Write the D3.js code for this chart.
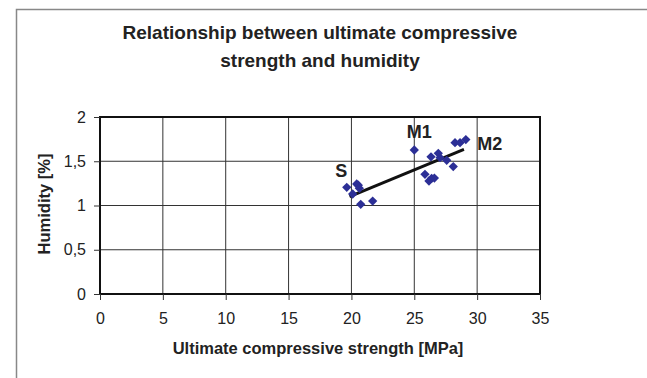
<!DOCTYPE html>
<html lang="en">
<head>
  <meta charset="UTF-8">
  <title>Compressive strength vs humidity</title>
  <script src="https://d3js.org/d3.v7.min.js"></script>
  <style>
    body { margin: 0; background: #fff; }
    text { font-family: "Liberation Sans", Arial, sans-serif; }
  </style>
</head>
<body>
  <div id="viz"></div>

  <script>
    // Data
    const strength = [19.63, 20.42, 20.55, 20.63, 20.1, 20.74, 21.69,
                      25.0, 25.85, 26.17, 26.38, 26.6, 26.33, 26.91, 27.05,
                      27.58, 28.1, 28.24, 28.64, 29.1];
    const humidity = [1.205, 1.243, 1.23, 1.194, 1.13, 1.013, 1.05,
                      1.627, 1.352, 1.277, 1.307, 1.31, 1.55, 1.59, 1.54,
                      1.51, 1.44, 1.71, 1.71, 1.745];
    const trendX = [19.85, 28.95];
    const trendY = [1.10, 1.635];
    const pointLabels = [
      { text: "S", x: 19.2, y: 1.32, anchor: "middle" },
      { text: "M1", x: 25.4, y: 1.76, anchor: "middle" },
      { text: "M2", x: 30.0, y: 1.625, anchor: "start" }
    ];
    const xTicks = [0, 5, 10, 15, 20, 25, 30, 35];
    const yTicks = [0, 0.5, 1, 1.5, 2];

    const W = 647, H = 378;
    const plot = { left: 100, top: 117, right: 540, bottom: 294 };

    const svg = d3.select('#viz').append('svg')
      .attr('width', W)
      .attr('height', H);

    // outer chart frame
    svg.append('rect')
      .attr('x', 16.5).attr('y', 9.5)
      .attr('width', 700).attr('height', 500)
      .attr('fill', 'none')
      .attr('stroke', '#888')
      .attr('stroke-width', 1.5);

    const x = d3.scaleLinear().domain([0, 35]).range([plot.left, plot.right]);
    const y = d3.scaleLinear().domain([0, 2]).range([plot.bottom, plot.top]);

    // gridlines
    svg.append('g')
      .selectAll('line')
      .data(xTicks.slice(1, -1))
      .join('line')
        .attr('x1', d => x(d)).attr('x2', d => x(d))
        .attr('y1', plot.top).attr('y2', plot.bottom)
        .attr('stroke', '#333').attr('stroke-width', 1);
    svg.append('g')
      .selectAll('line')
      .data(yTicks.slice(1, -1))
      .join('line')
        .attr('x1', plot.left).attr('x2', plot.right)
        .attr('y1', d => y(d)).attr('y2', d => y(d))
        .attr('stroke', '#333').attr('stroke-width', 1);

    // plot border
    svg.append('rect')
      .attr('x', plot.left).attr('y', plot.top)
      .attr('width', plot.right - plot.left)
      .attr('height', plot.bottom - plot.top)
      .attr('fill', 'none')
      .attr('stroke', '#111')
      .attr('stroke-width', 2);

    const fmt = d => String(d).replace('.', ',');

    // axes
    const xAxis = svg.append('g')
      .attr('transform', `translate(0, ${plot.bottom})`)
      .call(d3.axisBottom(x).tickValues(xTicks).tickSize(6).tickPadding(13).tickFormat(fmt));
    const yAxis = svg.append('g')
      .attr('transform', `translate(${plot.left}, 0)`)
      .call(d3.axisLeft(y).tickValues(yTicks).tickSize(6).tickPadding(8).tickFormat(fmt));

    [xAxis, yAxis].forEach(a => {
      a.select('.domain').remove();
      a.selectAll('.tick line').attr('stroke', '#333');
      a.selectAll('.tick text')
        .attr('fill', '#222')
        .style('font-family', '"Liberation Sans", Arial, sans-serif')
        .style('font-size', '16px');
    });

    // trend line
    svg.append('path')
      .datum(trendX.map((d, i) => [d, trendY[i]]))
      .attr('d', d3.line().x(d => x(d[0])).y(d => y(d[1])))
      .attr('fill', 'none')
      .attr('stroke', '#111')
      .attr('stroke-width', 3);

    // diamonds
    svg.append('g')
      .selectAll('path')
      .data(strength.map((d, i) => [d, humidity[i]]))
      .join('path')
        .attr('d', d3.symbol(d3.symbolDiamond2, 55))
        .attr('transform', d => `translate(${x(d[0])}, ${y(d[1])})`)
        .attr('fill', '#2c2f96');

    // point labels
    svg.append('g')
      .selectAll('text')
      .data(pointLabels)
      .join('text')
        .attr('x', d => x(d.x))
        .attr('y', d => y(d.y))
        .attr('text-anchor', d => d.anchor)
        .attr('font-weight', 'bold')
        .attr('font-size', 18)
        .attr('fill', '#222')
        .text(d => d.text);

    // titles
    const title = svg.append('text')
      .attr('text-anchor', 'middle')
      .attr('font-weight', 'bold')
      .attr('font-size', 19)
      .attr('fill', '#222');
    title.append('tspan').attr('x', 320).attr('y', 39).text('Relationship between ultimate compressive');
    title.append('tspan').attr('x', 320).attr('y', 67).text('strength and humidity');

    svg.append('text')
      .attr('x', 318).attr('y', 354)
      .attr('text-anchor', 'middle')
      .attr('font-weight', 'bold')
      .attr('font-size', 16.5)
      .attr('fill', '#222')
      .text('Ultimate compressive strength [MPa]');

    svg.append('text')
      .attr('transform', 'translate(50, 204) rotate(-90)')
      .attr('text-anchor', 'middle')
      .attr('font-weight', 'bold')
      .attr('font-size', 16.5)
      .attr('fill', '#222')
      .text('Humidity [%]');
  </script>
</body>
</html>
